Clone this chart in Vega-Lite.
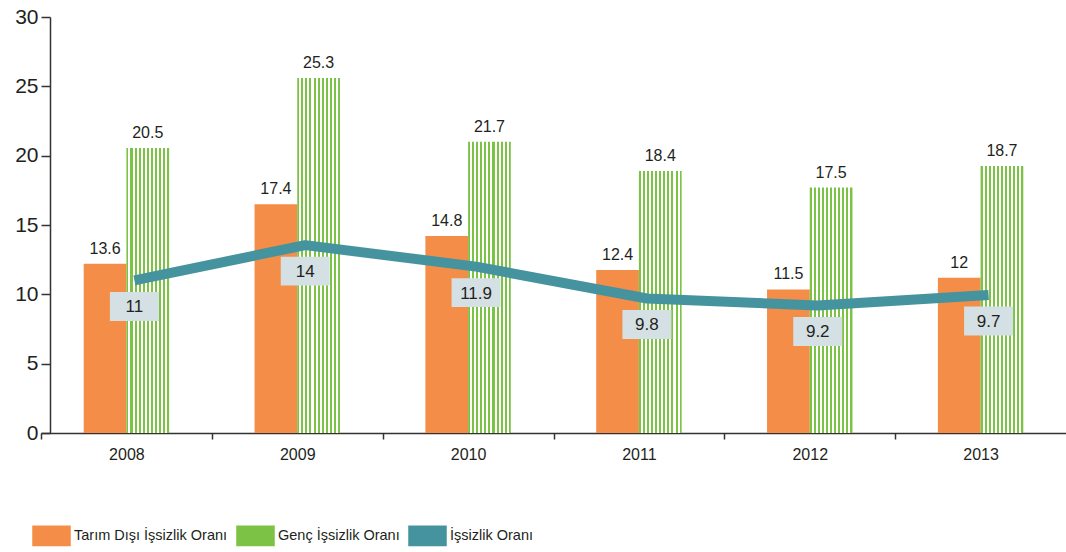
{
  "$schema": "https://vega.github.io/schema/vega-lite/v6.json",
  "autosize": "none",
  "width": 1025,
  "height": 416,
  "padding": {"left": 41, "top": 17, "right": 0, "bottom": 119},
  "background": "white",
  "config": {
    "font": "Liberation Sans, Arial, sans-serif",
    "view": {"stroke": null}
  },
  "data": {
    "values": [
      {"year": "2008", "series": "Tarım Dışı İşsizlik Oranı", "value": 12.2, "label": "13.6"},
      {"year": "2009", "series": "Tarım Dışı İşsizlik Oranı", "value": 16.5, "label": "17.4"},
      {"year": "2010", "series": "Tarım Dışı İşsizlik Oranı", "value": 14.2, "label": "14.8"},
      {"year": "2011", "series": "Tarım Dışı İşsizlik Oranı", "value": 11.75, "label": "12.4"},
      {"year": "2012", "series": "Tarım Dışı İşsizlik Oranı", "value": 10.35, "label": "11.5"},
      {"year": "2013", "series": "Tarım Dışı İşsizlik Oranı", "value": 11.2, "label": "12"},
      {"year": "2008", "series": "Genç İşsizlik Oranı", "value": 20.55, "label": "20.5"},
      {"year": "2009", "series": "Genç İşsizlik Oranı", "value": 25.6, "label": "25.3"},
      {"year": "2010", "series": "Genç İşsizlik Oranı", "value": 21.0, "label": "21.7"},
      {"year": "2011", "series": "Genç İşsizlik Oranı", "value": 18.9, "label": "18.4"},
      {"year": "2012", "series": "Genç İşsizlik Oranı", "value": 17.7, "label": "17.5"},
      {"year": "2013", "series": "Genç İşsizlik Oranı", "value": 19.25, "label": "18.7"},
      {"year": "2008", "series": "İşsizlik Oranı", "value": 11.0, "label": "11"},
      {"year": "2009", "series": "İşsizlik Oranı", "value": 13.55, "label": "14"},
      {"year": "2010", "series": "İşsizlik Oranı", "value": 12.0, "label": "11.9"},
      {"year": "2011", "series": "İşsizlik Oranı", "value": 9.7, "label": "9.8"},
      {"year": "2012", "series": "İşsizlik Oranı", "value": 9.2, "label": "9.2"},
      {"year": "2013", "series": "İşsizlik Oranı", "value": 9.95, "label": "9.7"}
    ]
  },
  "encoding": {
    "x": {
      "field": "year",
      "type": "nominal",
      "scale": {"paddingInner": 0.5, "paddingOuter": 0.25},
      "axis": {
        "title": null,
        "tickOffset": -85.4,
        "labelOffset": 85.4,
        "labelAngle": 0,
        "labelFontSize": 16,
        "labelColor": "#231f20",
        "labelPadding": 7,
        "tickSize": 6,
        "tickColor": "#333333",
        "tickWidth": 1.5,
        "domainColor": "#333333",
        "domainWidth": 1.5
      }
    },
    "y": {
      "field": "value",
      "type": "quantitative",
      "scale": {"domain": [0, 30], "nice": false},
      "axis": {
        "title": null,
        "values": [0, 5, 10, 15, 20, 25, 30],
        "grid": false,
        "offset": -9,
        "labelFontSize": 21,
        "labelColor": "#231f20",
        "labelPadding": 3,
        "tickSize": 9,
        "tickColor": "#333333",
        "tickWidth": 1.5,
        "domainColor": "#333333",
        "domainWidth": 1.5
      }
    }
  },
  "layer": [
    {
      "transform": [{"filter": "datum.series === 'Tarım Dışı İşsizlik Oranı'"}],
      "mark": {"type": "bar", "opacity": 1},
      "encoding": {
        "xOffset": {
          "field": "series",
          "type": "nominal",
          "scale": {"domain": ["Tarım Dışı İşsizlik Oranı", "Genç İşsizlik Oranı"], "paddingInner": 0, "paddingOuter": 0}
        },
        "color": {
          "field": "series",
          "type": "nominal",
          "scale": {
            "domain": ["Tarım Dışı İşsizlik Oranı", "Genç İşsizlik Oranı", "İşsizlik Oranı"],
            "range": ["#f48d48", "#7cc245", "#45939e"]
          },
          "legend": {
            "title": null,
            "orient": "none",
            "legendX": -9,
            "legendY": 499,
            "direction": "horizontal",
            "labelFontSize": 14.5,
            "labelColor": "#231f20",
            "labelOffset": 3,
            "labelLimit": 400,
            "columnPadding": 6,
            "symbolSize": 1369,
            "symbolType": "M-1,-0.52H1V0.52H-1Z",
            "encode": {
              "symbols": {
                "update": {
                  "shape": {"signal": "datum.value === 'İşsizlik Oranı' ? 'M-1,-0.27H1V0.27H-1Z' : 'M-1,-0.52H1V0.52H-1Z'"},
                  "fill": [
                    {
                      "test": "datum.value === 'Genç İşsizlik Oranı'",
                      "value": {
                        "gradient": "linear", "x1": 0, "y1": 0, "x2": 1, "y2": 0,
                        "stops": [
                          {"offset": 0, "color": "#7cc245"}, {"offset": 0.0667, "color": "#7cc245"},
                          {"offset": 0.0667, "color": "#ffffff"}, {"offset": 0.1333, "color": "#ffffff"},
                          {"offset": 0.1333, "color": "#7cc245"}, {"offset": 0.2, "color": "#7cc245"},
                          {"offset": 0.2, "color": "#ffffff"}, {"offset": 0.2667, "color": "#ffffff"},
                          {"offset": 0.2667, "color": "#7cc245"}, {"offset": 0.3333, "color": "#7cc245"},
                          {"offset": 0.3333, "color": "#ffffff"}, {"offset": 0.4, "color": "#ffffff"},
                          {"offset": 0.4, "color": "#7cc245"}, {"offset": 0.4667, "color": "#7cc245"},
                          {"offset": 0.4667, "color": "#ffffff"}, {"offset": 0.5333, "color": "#ffffff"},
                          {"offset": 0.5333, "color": "#7cc245"}, {"offset": 0.6, "color": "#7cc245"},
                          {"offset": 0.6, "color": "#ffffff"}, {"offset": 0.6667, "color": "#ffffff"},
                          {"offset": 0.6667, "color": "#7cc245"}, {"offset": 0.7333, "color": "#7cc245"},
                          {"offset": 0.7333, "color": "#ffffff"}, {"offset": 0.8, "color": "#ffffff"},
                          {"offset": 0.8, "color": "#7cc245"}, {"offset": 0.8667, "color": "#7cc245"},
                          {"offset": 0.8667, "color": "#ffffff"}, {"offset": 0.9333, "color": "#ffffff"},
                          {"offset": 0.9333, "color": "#7cc245"}, {"offset": 1, "color": "#7cc245"}
                        ]
                      }
                    },
                    {"scale": "color", "field": "value"}
                  ],
                  "stroke": {"value": "transparent"},
                  "strokeWidth": {"value": 0},
                  "opacity": {"value": 1},
                  "size": {"value": 1369}
                }
              }
            }
          }
        }
      }
    },
    {
      "transform": [{"filter": "datum.series === 'Genç İşsizlik Oranı'"}],
      "mark": {
        "type": "bar",
        "opacity": 1,
        "fill": {
          "gradient": "linear", "x1": 0, "y1": 0, "x2": 1, "y2": 0,
          "stops": [
            {"offset": 0, "color": "#7cc245"}, {"offset": 0.0476, "color": "#7cc245"},
            {"offset": 0.0476, "color": "#ffffff"}, {"offset": 0.0952, "color": "#ffffff"},
            {"offset": 0.0952, "color": "#7cc245"}, {"offset": 0.1429, "color": "#7cc245"},
            {"offset": 0.1429, "color": "#ffffff"}, {"offset": 0.1905, "color": "#ffffff"},
            {"offset": 0.1905, "color": "#7cc245"}, {"offset": 0.2381, "color": "#7cc245"},
            {"offset": 0.2381, "color": "#ffffff"}, {"offset": 0.2857, "color": "#ffffff"},
            {"offset": 0.2857, "color": "#7cc245"}, {"offset": 0.3333, "color": "#7cc245"},
            {"offset": 0.3333, "color": "#ffffff"}, {"offset": 0.381, "color": "#ffffff"},
            {"offset": 0.381, "color": "#7cc245"}, {"offset": 0.4286, "color": "#7cc245"},
            {"offset": 0.4286, "color": "#ffffff"}, {"offset": 0.4762, "color": "#ffffff"},
            {"offset": 0.4762, "color": "#7cc245"}, {"offset": 0.5238, "color": "#7cc245"},
            {"offset": 0.5238, "color": "#ffffff"}, {"offset": 0.5714, "color": "#ffffff"},
            {"offset": 0.5714, "color": "#7cc245"}, {"offset": 0.619, "color": "#7cc245"},
            {"offset": 0.619, "color": "#ffffff"}, {"offset": 0.6667, "color": "#ffffff"},
            {"offset": 0.6667, "color": "#7cc245"}, {"offset": 0.7143, "color": "#7cc245"},
            {"offset": 0.7143, "color": "#ffffff"}, {"offset": 0.7619, "color": "#ffffff"},
            {"offset": 0.7619, "color": "#7cc245"}, {"offset": 0.8095, "color": "#7cc245"},
            {"offset": 0.8095, "color": "#ffffff"}, {"offset": 0.8571, "color": "#ffffff"},
            {"offset": 0.8571, "color": "#7cc245"}, {"offset": 0.9048, "color": "#7cc245"},
            {"offset": 0.9048, "color": "#ffffff"}, {"offset": 0.9524, "color": "#ffffff"},
            {"offset": 0.9524, "color": "#7cc245"}, {"offset": 1, "color": "#7cc245"}
          ]
        }
      },
      "encoding": {
        "xOffset": {"field": "series", "type": "nominal"}
      }
    },
    {
      "transform": [{"filter": "datum.series === 'İşsizlik Oranı'"}],
      "mark": {"type": "line", "strokeWidth": 10, "interpolate": "linear", "strokeJoin": "round", "xOffset": 8},
      "encoding": {
        "color": {"field": "series", "type": "nominal"}
      }
    },
    {
      "transform": [{"filter": "datum.series === 'İşsizlik Oranı'"}],
      "mark": {"type": "point", "shape": "M-1,-0.59H1V0.59H-1Z", "size": 2401, "filled": true, "fill": "#d4e0e3", "opacity": 1, "strokeWidth": 0, "xOffset": 8, "yOffset": 26},
      "encoding": {}
    },
    {
      "transform": [{"filter": "datum.series === 'İşsizlik Oranı'"}],
      "mark": {"type": "text", "fontSize": 17, "color": "#231f20", "baseline": "middle", "align": "center", "xOffset": 8, "yOffset": 27},
      "encoding": {"text": {"field": "label"}}
    },
    {
      "transform": [{"filter": "datum.series !== 'İşsizlik Oranı'"}],
      "mark": {"type": "text", "fontSize": 16, "color": "#231f20", "baseline": "bottom", "align": "center", "dy": -7},
      "encoding": {
        "xOffset": {"field": "series", "type": "nominal"},
        "text": {"field": "label"}
      }
    }
  ]
}
